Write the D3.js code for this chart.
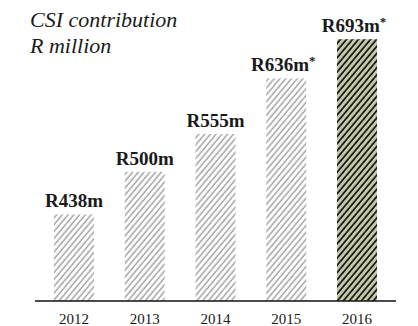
<!DOCTYPE html>
<html>
<head>
<meta charset="utf-8">
<script src="https://cdn.jsdelivr.net/npm/d3@7"></script>
<style>
  body { margin: 0; background: #fff; }
  text { font-family: "Liberation Serif", serif; fill: #1a1a1a; }
</style>
</head>
<body>
<div class="graph"></div>
<script>
const years = ["2012", "2013", "2014", "2015", "2016"];
const values = [438, 500, 555, 636, 693];
const labels = ["R438m", "R500m", "R555m", "R636m", "R693m"];
const starred = [false, false, false, true, true];
const titleLines = ["CSI contribution", "R million"];

const width = 418, height = 326;
const baseY = 301;

const svg = d3.select(".graph")
    .append("svg")
    .attr("width", width)
    .attr("height", height);

const defs = svg.append("defs");

// light grey hatch
const light = defs.append("pattern")
    .attr("id", "hatchLight")
    .attr("patternUnits", "userSpaceOnUse")
    .attr("width", 4.4)
    .attr("height", 10)
    .attr("patternTransform", "rotate(40)");
light.append("line")
    .attr("x1", 1).attr("y1", 0).attr("x2", 1).attr("y2", 10)
    .attr("stroke", "#7a7a7a")
    .attr("stroke-width", 1);

// dark hatch on khaki for the last year
const dark = defs.append("pattern")
    .attr("id", "hatchDark")
    .attr("patternUnits", "userSpaceOnUse")
    .attr("width", 4.6)
    .attr("height", 10)
    .attr("patternTransform", "rotate(40)");
dark.append("rect")
    .attr("width", 4.6).attr("height", 10)
    .attr("fill", "#c6caa8");
dark.append("line")
    .attr("x1", 1).attr("y1", 0).attr("x2", 1).attr("y2", 10)
    .attr("stroke", "#111")
    .attr("stroke-width", 1.7);

const x = d3.scaleBand()
    .domain(years)
    .range([35, 396])
    .paddingInner(0.435)
    .paddingOuter(0.2686);

const y = d3.scaleLinear()
    .domain([312, 702])
    .range([baseY, 33]);

svg.selectAll("rect.bar")
    .data(values)
    .enter()
    .append("rect")
    .attr("class", "bar")
    .attr("x", (d, i) => x(years[i]))
    .attr("y", d => y(d))
    .attr("width", x.bandwidth())
    .attr("height", d => baseY - y(d))
    .attr("fill", (d, i) => i === years.length - 1 ? "url(#hatchDark)" : "url(#hatchLight)");

// value labels
const vl = svg.selectAll("text.val")
    .data(values)
    .enter()
    .append("text")
    .attr("class", "val")
    .attr("x", (d, i) => x(years[i]) + x.bandwidth() / 2 - (starred[i] ? 3 : 0))
    .attr("y", d => y(d) - 7)
    .attr("text-anchor", "middle")
    .attr("font-size", 19)
    .attr("font-weight", "bold");
vl.append("tspan").text((d, i) => labels[i]);
vl.filter((d, i) => starred[i])
    .append("tspan")
    .attr("dy", -6)
    .attr("font-size", 13)
    .text("*");

// axis
const axis = svg.append("g")
    .attr("transform", `translate(0, ${baseY})`)
    .call(d3.axisBottom(x).tickSize(0).tickPadding(12));
axis.select(".domain")
    .attr("d", "M35,0H396")
    .attr("stroke", "#111")
    .attr("stroke-width", 1.5);
axis.selectAll(".tick text")
    .attr("font-family", "Liberation Serif")
    .attr("font-size", 15)
    .attr("fill", "#1a1a1a");

// title
svg.selectAll("text.title")
    .data(titleLines)
    .enter()
    .append("text")
    .attr("class", "title")
    .attr("x", 30)
    .attr("y", (d, i) => 27 + i * 26)
    .attr("font-size", 22)
    .attr("font-style", "italic")
    .text(d => d);
</script>
</body>
</html>
